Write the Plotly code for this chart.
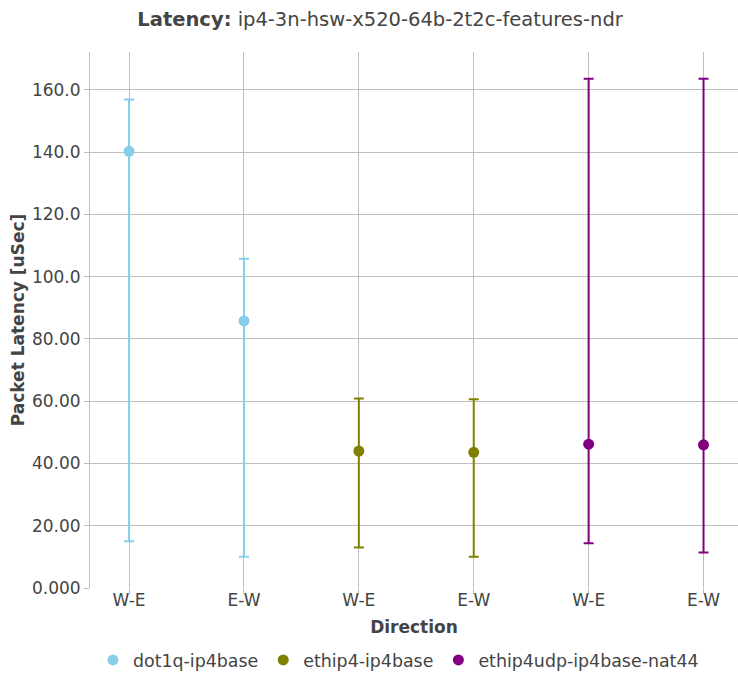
import plotly.graph_objects as go

# Data
directions = ["W-E", "E-W"]
series_names = ["dot1q-ip4base", "ethip4-ip4base", "ethip4udp-ip4base-nat44"]
series_colors = ["#87CEEB", "#808000", "#800080"]
avg_latency = [[140.3, 85.8], [44.0, 43.6], [46.2, 46.0]]
max_latency = [[156.9, 105.8], [60.9, 60.6], [163.6, 163.6]]
min_latency = [[15.0, 10.0], [13.0, 10.0], [14.4, 11.4]]

fig = go.Figure()
pos = 0
tickvals, ticktext = [], []
for name, color, avg, mx, mn in zip(series_names, series_colors, avg_latency, max_latency, min_latency):
    xs = list(range(pos, pos + len(directions)))
    tickvals += xs
    ticktext += directions
    pos += len(directions)
    fig.add_trace(go.Scatter(
        x=xs, y=avg, mode="markers", name=name,
        marker=dict(color=color, size=11),
        error_y=dict(type="data", symmetric=False,
                     array=[a - b for a, b in zip(mx, avg)],
                     arrayminus=[a - b for a, b in zip(avg, mn)],
                     color=color, thickness=2, width=5),
    ))

font = "DejaVu Sans"
grid = "#bebebe"
fig.update_layout(
    width=738, height=675,
    paper_bgcolor="white", plot_bgcolor="white",
    font=dict(family=font, size=17, color="#444"),
    title=dict(text="<b>Latency:</b> ip4-3n-hsw-x520-64b-2t2c-features-ndr",
               x=0.515, xanchor="center", y=0.972, yanchor="middle",
               font=dict(size=19.5)),
    margin=dict(l=90, r=0, t=52, b=87),
    showlegend=True,
    legend=dict(orientation="h", x=0.476, xanchor="center",
                yref="container", y=0.022, yanchor="middle",
                font=dict(size=17.4)),
    xaxis=dict(title=dict(text="<b>Direction</b>", font=dict(size=17), standoff=11),
               tickmode="array", tickvals=tickvals, ticktext=ticktext,
               range=[-0.34, 5.3], showgrid=True, gridcolor=grid, gridwidth=1,
               ticks="outside", ticklen=5, tickcolor=grid,
               ticklabelstandoff=-8,
               zeroline=False, showline=False, automargin=False),
    yaxis=dict(title=dict(text="<b>Packet Latency [uSec]</b>", font=dict(size=17), standoff=2),
               range=[0, 172.2], tickformat=".4r", dtick=20,
               showgrid=True, gridcolor=grid, gridwidth=1,
               ticks="outside", ticklen=5, tickcolor=grid,
               showline=True, linecolor=grid, linewidth=1,
               zeroline=False, automargin=False),
)

fig.write_html("out.html", config={"displayModeBar": False},
               post_script="document.body.style.margin='0';")
